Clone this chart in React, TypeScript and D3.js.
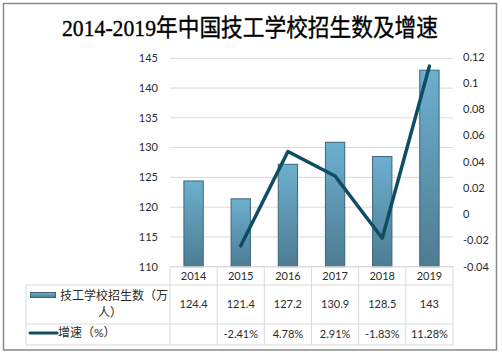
import React from "react";
import * as d3 from "d3";

const years = ["2014", "2015", "2016", "2017", "2018", "2019"];
const enrollment = [124.4, 121.4, 127.2, 130.9, 128.5, 143];
const growth: (number | null)[] = [null, -0.0241, 0.0478, 0.0291, -0.0183, 0.1128];
const growthLabels = ["", "-2.41%", "4.78%", "2.91%", "-1.83%", "11.28%"];
const leftTicks = [110, 115, 120, 125, 130, 135, 140, 145];
const rightTicks = [-0.04, -0.02, 0, 0.02, 0.04, 0.06, 0.08, 0.1, 0.12];
const title = "2014-2019年中国技工学校招生数及增速";
const barLegend1 = "技工学校招生数（万";
const barLegend2 = "人）";
const lineLegend = "增速（%）";

const W = 502;
const H = 356;
const plotLeft = 170;
const plotRight = 453;
const plotTop = 58.3;
const plotBottom = 266.7;
const tableLeft = 26;
const row1Bottom = 285;
const row2Bottom = 324;
const row3Bottom = 345;

const textColor = "#2b2b2b";
const gridColor = "#d9d9d9";
const lineColor = "#0e4d64";
const font = "Lato, 'Noto Sans CJK SC', sans-serif";

export default function App() {
  const x = d3.scaleBand<string>().domain(years).range([plotLeft, plotRight]).paddingInner(0.59).paddingOuter(0.295);
  const xb = d3.scaleBand<string>().domain(years).range([plotLeft, plotRight]);
  const yL = d3.scaleLinear().domain([110, 145]).range([plotBottom, plotTop]);
  const yR = d3.scaleLinear().domain([-0.04, 0.12]).range([plotBottom, plotTop - 1.6]);

  const lineGen = d3
    .line<number | null>()
    .defined((d) => d !== null)
    .x((_, i) => (xb(years[i]) as number) + xb.bandwidth() / 2)
    .y((d) => yR(d as number));

  const boundaries = years.map((y) => xb(y) as number).concat([plotRight]);

  return (
    <svg width={W} height={H} style={{ position: "absolute", left: 0, top: 0 }}>
      <defs>
        <linearGradient id="barGrad" x1="0" y1="0" x2="0" y2="1">
          <stop offset="0%" stopColor="#6dafcf" />
          <stop offset="100%" stopColor="#4d7c92" />
        </linearGradient>
        <linearGradient id="legGrad" x1="0" y1="0" x2="0" y2="1">
          <stop offset="0%" stopColor="#6dafcf" />
          <stop offset="100%" stopColor="#4d7c92" />
        </linearGradient>
      </defs>
      <rect x={0} y={0} width={W} height={H} fill="#fff" />
      <rect x={3.5} y={3.5} width={493} height={346.5} fill="none" stroke="#8a8a8a" strokeWidth={1.5} />

      <text
        x={62}
        y={36}
        fontFamily="'Liberation Serif', 'Noto Sans CJK SC', serif"
        fontSize={24}
        fill="#000"
        stroke="#000"
        strokeWidth={0.35}
        textLength={376}
        lengthAdjust="spacingAndGlyphs"
      >
        {title}
      </text>

      {leftTicks.map((t) => (
        <line key={"g" + t} x1={plotLeft} x2={plotRight} y1={yL(t)} y2={yL(t)} stroke={gridColor} strokeWidth={1} />
      ))}

      {leftTicks.map((t) => (
        <text key={"l" + t} x={158} y={yL(t)} dy="0.35em" textAnchor="end" fontFamily={font} fontSize={11} fill={textColor}>
          {t}
        </text>
      ))}
      {rightTicks.map((t) => (
        <text key={"r" + t} x={463} y={yR(t)} dy="0.35em" textAnchor="start" fontFamily={font} fontSize={11} fill={textColor}>
          {String(t)}
        </text>
      ))}

      {enrollment.map((v, i) => (
        <rect
          key={"b" + i}
          x={x(years[i]) as number}
          y={yL(v)}
          width={x.bandwidth()}
          height={plotBottom - yL(v)}
          fill="url(#barGrad)"
          stroke="#3f6478"
          strokeWidth={1}
        />
      ))}

      <path d={lineGen(growth) || ""} fill="none" stroke={lineColor} strokeWidth={3.5} strokeLinejoin="round" strokeLinecap="round" />

      {boundaries.map((b, i) => (
        <line key={"v" + i} x1={b} x2={b} y1={plotBottom} y2={row3Bottom} stroke={gridColor} strokeWidth={1} />
      ))}
      <line x1={tableLeft} x2={tableLeft} y1={row1Bottom} y2={row3Bottom} stroke={gridColor} strokeWidth={1} />
      <line x1={plotLeft} x2={plotRight} y1={plotBottom} y2={plotBottom} stroke={gridColor} strokeWidth={1} />
      {[row1Bottom, row2Bottom, row3Bottom].map((yy) => (
        <line key={"h" + yy} x1={tableLeft} x2={plotRight} y1={yy} y2={yy} stroke={gridColor} strokeWidth={1} />
      ))}

      {years.map((yr) => (
        <text key={"yr" + yr} x={(xb(yr) as number) + xb.bandwidth() / 2} y={276} dy="0.35em" textAnchor="middle" fontFamily={font} fontSize={11} fill={textColor}>
          {yr}
        </text>
      ))}
      {enrollment.map((v, i) => (
        <text key={"ev" + i} x={(xb(years[i]) as number) + xb.bandwidth() / 2} y={304} dy="0.35em" textAnchor="middle" fontFamily={font} fontSize={11} fill={textColor}>
          {v}
        </text>
      ))}
      {growthLabels.map((g, i) => (
        <text key={"gl" + i} x={(xb(years[i]) as number) + xb.bandwidth() / 2} y={334} dy="0.35em" textAnchor="middle" fontFamily={font} fontSize={11} fill={textColor}>
          {g}
        </text>
      ))}

      <rect x={30.5} y={292.5} width={25} height={5} fill="url(#legGrad)" stroke="#3f6478" strokeWidth={1} />
      <text x={114} y={296} dy="0.35em" textAnchor="middle" fontFamily={font} fontSize={12} fill={textColor}>
        {barLegend1}
      </text>
      <text x={110} y={313} dy="0.35em" textAnchor="middle" fontFamily={font} fontSize={12} fill={textColor}>
        {barLegend2}
      </text>
      <line x1={30} x2={57} y1={333} y2={333} stroke={lineColor} strokeWidth={3} strokeLinecap="round" />
      <text x={58} y={333} dy="0.35em" textAnchor="start" fontFamily={font} fontSize={12} fill={textColor}>
        {lineLegend}
      </text>
    </svg>
  );
}
